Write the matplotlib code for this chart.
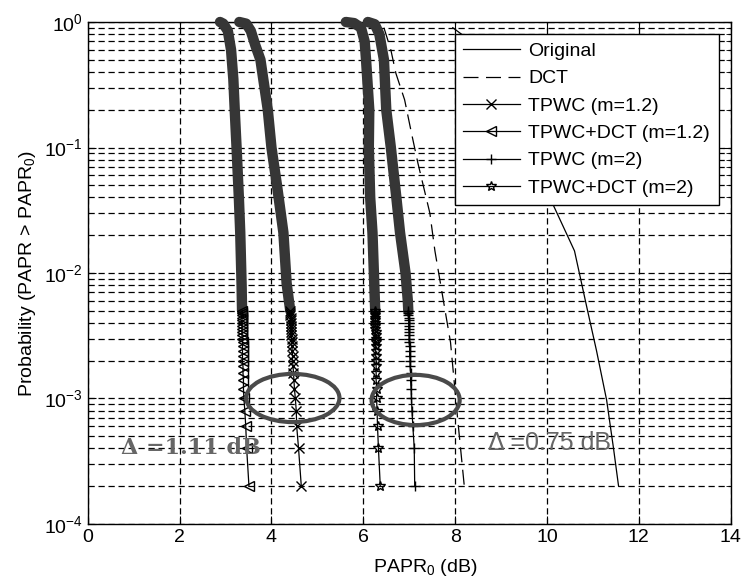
import numpy as np
import matplotlib
matplotlib.use("Agg")
import matplotlib.pyplot as plt
from matplotlib.patches import Ellipse
from matplotlib.ticker import LogLocator, MultipleLocator

plt.rcParams['font.family'] = ['Liberation Sans', 'DejaVu Sans']
plt.rcParams['mathtext.fontset'] = 'custom'
plt.rcParams['mathtext.rm'] = 'Liberation Sans'

# CCDF curves of PAPR (dB) vs probability
orig_x = [7.95, 8.6, 9.3, 9.8, 10.15, 10.5, 10.6, 10.87, 11.08, 11.3, 11.45, 11.56]
orig_p = [0.9, 0.6, 0.25, 0.08, 0.034, 0.018, 0.015, 0.0053, 0.0024, 0.00097, 0.0004, 0.0002]

dct_x = [6.45, 6.6, 6.71, 6.9, 7.05, 7.19, 7.45, 7.56, 7.9, 8.05, 8.2]
dct_p = [0.9, 0.6, 0.39, 0.24, 0.13, 0.075, 0.03, 0.015, 0.0028, 0.00072, 0.0002]

# dense (thick) upper part of the simulated curves
a_x = [2.88, 2.95, 3.05, 3.12, 3.17, 3.20, 3.24, 3.29, 3.32, 3.35, 3.36]
a_p = [1.0, 0.97, 0.85, 0.6, 0.35, 0.2, 0.1, 0.04, 0.021, 0.008, 0.005]
b_x = [3.30, 3.45, 3.55, 3.65, 3.76, 3.92, 4.00, 4.12, 4.26, 4.33, 4.38, 4.41]
b_p = [1.0, 0.97, 0.85, 0.65, 0.5, 0.2, 0.1, 0.05, 0.021, 0.0083, 0.006, 0.005]
c_x = [5.62, 5.80, 5.95, 6.03, 6.06, 6.13, 6.12, 6.15, 6.20, 6.24, 6.26]
c_p = [1.0, 0.98, 0.9, 0.7, 0.5, 0.2, 0.1, 0.04, 0.021, 0.008, 0.005]
d_x = [6.10, 6.25, 6.35, 6.45, 6.50, 6.60, 6.72, 6.80, 6.92, 6.97, 6.98]
d_p = [1.0, 0.96, 0.8, 0.5, 0.2, 0.1, 0.04, 0.021, 0.01, 0.006, 0.005]

# sparse tail where single markers are visible
tail_p = [0.0002, 0.0004, 0.0006, 0.0008, 0.0010, 0.0012, 0.0014, 0.0016, 0.0018,
          0.0020, 0.0022, 0.0024, 0.0026, 0.0028, 0.0030, 0.0032, 0.0034, 0.0036,
          0.0038, 0.0040, 0.0042, 0.0044, 0.0046, 0.0048, 0.0050]
a_tail = [3.51, 3.46, 3.44, 3.42, 3.40, 3.39, 3.39, 3.38, 3.38, 3.37, 3.37, 3.37,
          3.37, 3.37, 3.36, 3.36, 3.36, 3.36, 3.36, 3.36, 3.36, 3.36, 3.36, 3.36, 3.36]
b_tail = [4.65, 4.59, 4.55, 4.54, 4.52, 4.50, 4.49, 4.48, 4.47, 4.46, 4.46, 4.45,
          4.45, 4.44, 4.44, 4.43, 4.43, 4.43, 4.42, 4.42, 4.42, 4.42, 4.41, 4.41, 4.41]
c_tail = [6.37, 6.33, 6.31, 6.30, 6.29, 6.29, 6.28, 6.28, 6.28, 6.28, 6.27, 6.27,
          6.27, 6.27, 6.27, 6.27, 6.27, 6.26, 6.26, 6.26, 6.26, 6.26, 6.26, 6.26, 6.26]
d_tail = [7.12, 7.11, 7.08, 7.06, 7.05, 7.04, 7.03, 7.03, 7.02, 7.02, 7.01, 7.01,
          7.01, 7.00, 7.00, 7.00, 7.00, 6.99, 6.99, 6.99, 6.99, 6.99, 6.98, 6.98, 6.98]

labels = ['Original', 'DCT', 'TPWC (m=1.2)', 'TPWC+DCT (m=1.2)', 'TPWC (m=2)', 'TPWC+DCT (m=2)']

fig = plt.figure(figsize=(7.44, 5.79), dpi=100)
ax = fig.add_axes([0.118, 0.095, 0.864, 0.867])

band = '#363636'
ax.semilogy(orig_x, orig_p, color='k', lw=0.9, label=labels[0])
ax.semilogy(dct_x, dct_p, color='k', lw=0.9, dashes=(12, 6), label=labels[1])

for xs, ps in [(a_x, a_p), (b_x, b_p), (c_x, c_p), (d_x, d_p)]:
    ax.semilogy(xs, ps, color=band, lw=7.5, solid_capstyle='round', clip_on=False, zorder=3)

mk = dict(color='k', lw=0.9, ms=7, mfc='none', mew=1.0, zorder=4)
ax.semilogy(b_tail, tail_p, marker='x', label=labels[2], **mk)
ax.semilogy(a_tail, tail_p, marker='<', label=labels[3], **mk)
ax.semilogy(d_tail, tail_p, marker='+', label=labels[4], **mk)
ax.semilogy(c_tail, tail_p, marker='*', label=labels[5], **mk)

ax.set_xlim(0, 14)
ax.set_ylim(1e-4, 1)
ax.xaxis.set_major_locator(MultipleLocator(2))
ax.yaxis.set_major_locator(LogLocator(base=10, numticks=10))
ax.yaxis.set_minor_locator(LogLocator(base=10, subs=np.arange(2, 10), numticks=10))
ax.tick_params(which='both', direction='in', top=True, right=True, labelsize=14)
ax.tick_params(which='major', length=6)
ax.tick_params(which='minor', length=3.5)
ax.grid(True, which='major', color='k', ls=(0, (5, 3)), lw=0.9)
ax.grid(True, which='minor', axis='y', color='k', ls=(0, (5, 3)), lw=0.9)
for s in ax.spines.values():
    s.set_linewidth(1.0)

ax.set_xlabel('PAPR$_0$ (dB)', fontsize=14, labelpad=2)
ax.xaxis.set_label_coords(0.525, -0.065)
ax.set_ylabel('Probability (PAPR > PAPR$_0$)', fontsize=14, labelpad=4)

leg = ax.legend(loc='upper right', fontsize=14, handlelength=2.9, handletextpad=0.45,
                borderpad=0.45, borderaxespad=0.6, fancybox=False, framealpha=1,
                edgecolor='k')
leg.get_frame().set_linewidth(1.0)

# highlight the 1e-3 crossings
for cx, cy, w, h in [(0.319, 0.251, 0.145, 0.096), (0.510, 0.247, 0.137, 0.100)]:
    ax.add_patch(Ellipse((cx, cy), w, h, transform=ax.transAxes, fill=False,
                         ec='#4a4a4a', lw=3, zorder=5))

ax.text(0.160, 0.151, '\u0394 =1.11 dB', transform=ax.transAxes, ha='center', va='center',
        fontsize=16, family=['DejaVu Serif'], color='#666666', fontweight='bold', zorder=6)
ax.text(0.718, 0.161, '\u0394 =0.75 dB', transform=ax.transAxes, ha='center', va='center',
        fontsize=18, color='#666666', zorder=6)

fig.savefig('out.png', dpi=100)
